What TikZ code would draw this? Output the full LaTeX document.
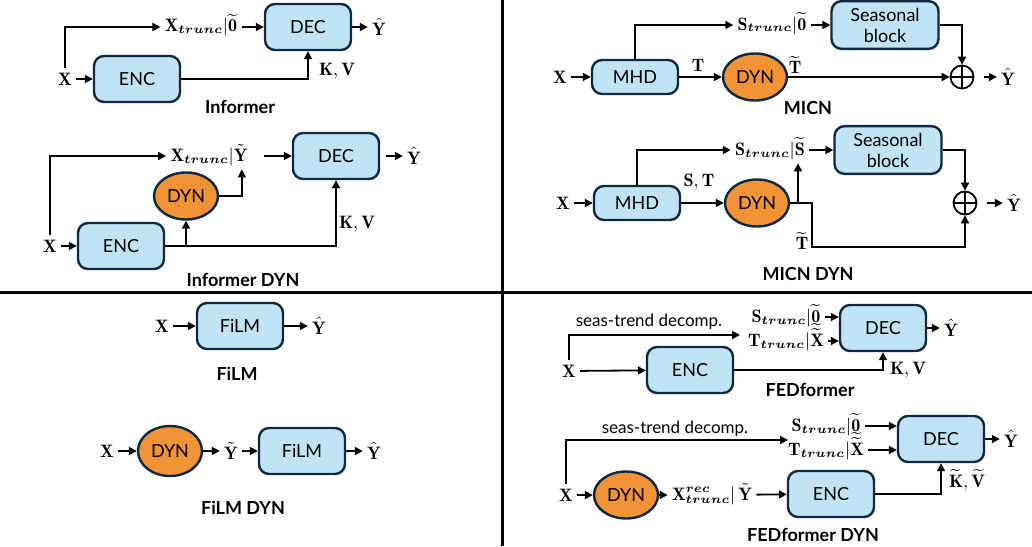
\documentclass[tikz,border=0pt]{standalone}
\usepackage{fontspec}
\setsansfont{Lato}
\usepackage{amsmath}
\usepackage{bm}
\usepackage{tikz}
\usetikzlibrary{shapes.geometric,arrows.meta}
\definecolor{BoxBlue}{RGB}{193,228,245}
\definecolor{EdgeNavy}{RGB}{14,40,65}
\definecolor{DynOrange}{RGB}{242,148,54}
\newcommand{\tr}{\bm{trunc}}

\begin{document}
\begin{tikzpicture}[x=0.5pt,y=-0.5pt,
  box/.style={draw=EdgeNavy,fill=BoxBlue,rounded corners=5pt,line width=1.2pt,
              minimum width=43pt,minimum height=23pt,align=center,
              font=\sffamily\fontsize{9}{10.5}\selectfont},
  dyn/.style={ellipse,draw=EdgeNavy,fill=DynOrange,line width=1.2pt,inner sep=0pt,
              minimum width=32pt,minimum height=23.5pt,
              font=\sffamily\fontsize{9}{10.5}\selectfont},
  sym/.style={inner sep=2pt,font=\fontsize{9}{10.5}\selectfont},
  lab/.style={inner sep=2pt,text height=7pt,text depth=2pt,
              font=\fontsize{9}{10.5}\selectfont},
  ttl/.style={font=\sffamily\bfseries\fontsize{9}{10.5}\selectfont},
  txt/.style={inner sep=1pt,font=\sffamily\fontsize{8.5}{10}\selectfont},
  sum/.style={circle,draw,line width=0.9pt,minimum size=11.5pt,inner sep=0pt},
  arr/.style={-{Triangle[length=4pt,width=4pt]},line width=0.9pt},
]
\useasboundingbox (0,0) rectangle (1032,546);
\draw[line width=1.5pt] (502,0) -- (502,546);
\draw[line width=1.5pt] (0,292) -- (1032,292);

% Informer
\node[sym] (x1) at (65,79) {$\mathbf{X}$};
\node[box] (enc1) at (137,79) {ENC};
\node[box] (dec1) at (308,27) {DEC};
\node[lab] (in1) at (201,27) {$\mathbf{X}_{\tr}|\widetilde{\mathbf{0}}$};
\node[sym] (y1) at (379,27) {$\hat{\mathbf{Y}}$};
\node[sym] (kv1) at (337,71) {$\mathbf{K},\mathbf{V}$};
\node[ttl] (t1) at (240,107) {Informer};
\draw[arr] (x1) -- (enc1);
\draw[arr] (x1.north) |- (in1.west);
\draw[arr] (in1) -- (dec1);
\draw[arr] (enc1.east) -| (dec1.south);
\draw[arr] (dec1) -- (y1);

% Informer DYN
\node[sym] (x2) at (50,246) {$\mathbf{X}$};
\node[box] (enc2) at (121,246) {ENC};
\node[dyn] (dyn2) at (186,196) {DYN};
\node[box] (dec2) at (336,156) {DEC};
\node[lab] (in2) at (209,156) {$\mathbf{X}_{\tr}|\tilde{\mathbf{Y}}$};
\node[sym] (y2) at (414,156) {$\hat{\mathbf{Y}}$};
\node[sym] (kv2) at (357,224) {$\mathbf{K},\mathbf{V}$};
\node[ttl] (t2) at (243,280) {Informer DYN};
\draw[arr] (x2) -- (enc2);
\draw[arr] (x2.north) |- (in2.west);
\draw[arr,shorten <=6pt] (in2) -- (dec2);
\draw[arr] (enc2.east) -| (dec2.south);
\draw[arr] (enc2.east -| dyn2.south) -- (dyn2.south);
\draw[arr] (dyn2.east) -| ([xshift=-5pt]in2.south east);
\draw[arr,shorten <=3pt] (dec2) -- (y2);

% MICN
\node[sym] (x3) at (560,77) {$\mathbf{X}$};
\node[box,minimum height=17pt] (mhd3) at (635,77) {MHD};
\node[dyn] (dyn3) at (755,77) {DYN};
\node[box,minimum width=53.5pt] (sea3) at (885,25) {Seasonal\\block};
\node[lab] (in3) at (772,25) {$\mathbf{S}_{\tr}|\widetilde{\mathbf{0}}$};
\node[sum] (sum3) at (962,77) {};
\draw[line width=0.9pt] (sum3.north) -- (sum3.south) (sum3.west) -- (sum3.east);
\node[sym] (y3) at (1008,77) {$\hat{\mathbf{Y}}$};
\node[sym] (tl3) at (698,65) {$\mathbf{T}$};
\node[sym] (tt3) at (795,65) {$\widetilde{\mathbf{T}}$};
\node[ttl] (t3) at (808,108) {MICN};
\draw[arr] (x3) -- (mhd3);
\draw[arr] (mhd3) -- (dyn3);
\draw[arr] (mhd3.north) |- (in3.west);
\draw[arr] (in3) -- (sea3);
\draw[arr] (sea3.east) -| (sum3.north);
\draw[arr] (dyn3) -- (sum3);
\draw[arr,shorten <=5pt] (sum3) -- (y3);

% MICN DYN
\node[sym] (x4) at (563,203) {$\mathbf{X}$};
\node[box,minimum height=17pt] (mhd4) at (637,203) {MHD};
\node[dyn] (dyn4) at (757,203) {DYN};
\node[box,minimum width=53.5pt] (sea4) at (888,150) {Seasonal\\block};
\node[lab] (in4) at (770,150) {$\mathbf{S}_{\tr}|\widetilde{\mathbf{S}}$};
\node[sum] (sum4) at (965,203) {};
\draw[line width=0.9pt] (sum4.north) -- (sum4.south) (sum4.west) -- (sum4.east);
\node[sym] (y4) at (1014,203) {$\hat{\mathbf{Y}}$};
\node[sym] (st4) at (699,182) {$\mathbf{S},\mathbf{T}$};
\node[sym] (tt4) at (802,241) {$\widetilde{\mathbf{T}}$};
\node[ttl] (t4) at (808,274) {MICN DYN};
\coordinate (split4) at (798,203);
\coordinate (bend4) at (812,247);
\draw[arr] (x4) -- (mhd4);
\draw[arr] (mhd4) -- (dyn4);
\draw[arr] (mhd4.north) |- (in4.west);
\draw[arr] (in4) -- (sea4);
\draw[arr] (sea4.east) -| (sum4.north);
\draw[arr] (dyn4.east) -| (bend4) -| (sum4.south);
\draw[arr] (split4) -- (split4 |- in4.south);
\draw[arr,shorten <=5pt] (sum4) -- (y4);

% FiLM
\node[sym] (x5) at (162,326) {$\mathbf{X}$};
\node[box] (film5) at (240,326) {FiLM};
\node[sym] (y5) at (319,326) {$\hat{\mathbf{Y}}$};
\node[ttl] (t5) at (237,374) {FiLM};
\draw[arr] (x5) -- (film5);
\draw[arr] (film5) -- (y5);

% FiLM DYN
\node[sym] (x6) at (107,451) {$\mathbf{X}$};
\node[dyn,minimum height=25pt] (dyn6) at (170,451) {DYN};
\node[sym] (yt6) at (231,451) {$\tilde{\mathbf{Y}}$};
\node[box] (film6) at (302,451) {FiLM};
\node[sym] (y6) at (374,451) {$\hat{\mathbf{Y}}$};
\node[ttl] (t6) at (243,508) {FiLM DYN};
\draw[arr] (x6) -- (dyn6);
\draw[arr] (dyn6) -- (yt6);
\draw[arr] (yt6) -- (film6);
\draw[arr] (film6) -- (y6);

% FEDformer
\node[sym] (x7) at (569,371) {$\mathbf{X}$};
\node[box] (enc7) at (690,370) {ENC};
\node[box] (dec7) at (883,328) {DEC};
\node[lab] (sin7) at (786,317) {$\mathbf{S}_{\tr}|\widetilde{\mathbf{0}}$};
\node[lab] (tin7) at (786,341) {$\mathbf{T}_{\tr}|\widetilde{\widetilde{\mathbf{X}}}$};
\node[txt] (sd7) at (649,322) {seas-trend decomp.};
\coordinate (sdend7) at (740,335);
\node[sym] (y7) at (951,328) {$\hat{\mathbf{Y}}$};
\node[sym] (kv7) at (908,370) {$\mathbf{K},\mathbf{V}$};
\node[ttl] (t7) at (810,390) {FEDformer};
\draw[arr] (x7) -- (enc7);
\draw[arr] (x7.north) |- (sdend7);
\draw[arr] (sin7.east) -- (sin7.east -| dec7.west);
\draw[arr] (tin7.east) -- (tin7.east -| dec7.west);
\draw[arr] (enc7.east) -| (dec7.south);
\draw[arr] (dec7) -- (y7);

% FEDformer DYN
\node[sym] (x8) at (566,495) {$\mathbf{X}$};
\node[dyn] (dyn8) at (626,495) {DYN};
\node[lab] (rec8) at (712,495) {$\mathbf{X}^{\bm{rec}}_{\tr}|\,\tilde{\mathbf{Y}}$};
\node[box] (enc8) at (831,494) {ENC};
\node[box] (dec8) at (941,439) {DEC};
\node[lab] (sin8) at (826,426) {$\mathbf{S}_{\tr}|\widetilde{\mathbf{0}}$};
\node[lab] (tin8) at (826,450) {$\mathbf{T}_{\tr}|\widetilde{\widetilde{\mathbf{X}}}$};
\node[txt] (sd8) at (675,429) {seas-trend decomp.};
\coordinate (sdend8) at (788,440);
\node[sym] (y8) at (1011,439) {$\hat{\mathbf{Y}}$};
\node[sym] (kv8) at (967,480) {$\widetilde{\mathbf{K}},\widetilde{\mathbf{V}}$};
\node[ttl] (t8) at (813,535) {FEDformer DYN};
\draw[arr] (x8) -- (dyn8);
\draw[arr] (x8.north) |- (sdend8);
\draw[arr] (dyn8) -- (rec8);
\draw[arr] (rec8) -- (enc8);
\draw[arr] (sin8.east) -- (sin8.east -| dec8.west);
\draw[arr] (tin8.east) -- (tin8.east -| dec8.west);
\draw[arr] (enc8.east) -| (dec8.south);
\draw[arr] (dec8) -- (y8);
\end{tikzpicture}
\end{document}
